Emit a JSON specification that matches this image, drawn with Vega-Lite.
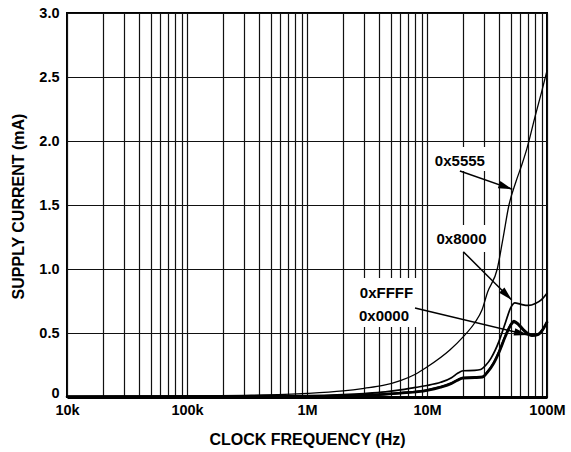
{
  "$schema": "https://vega.github.io/schema/vega-lite/v6.json",
  "width": 480,
  "height": 384,
  "autosize": {"type": "none"},
  "padding": {"left": 67, "top": 13, "right": 24, "bottom": 55},
  "background": "white",
  "config": {
    "view": {"stroke": "black", "strokeWidth": 2},
    "font": "Liberation Sans",
    "axis": {
      "labelFont": "Liberation Sans",
      "labelFontWeight": "bold",
      "labelFontSize": 14.5,
      "labelColor": "black",
      "titleFont": "Liberation Sans",
      "titleFontWeight": "bold",
      "titleFontSize": 16,
      "titleColor": "black",
      "gridColor": "#111",
      "gridWidth": 1.2,
      "gridOpacity": 1,
      "ticks": false
    }
  },
  "datasets": {
    "curves": [
      {"series": "0x5555", "freq": 10000, "current": 0.005},
      {"series": "0x5555", "freq": 30000, "current": 0.006},
      {"series": "0x5555", "freq": 100000, "current": 0.008},
      {"series": "0x5555", "freq": 300000, "current": 0.013},
      {"series": "0x5555", "freq": 1000000, "current": 0.028},
      {"series": "0x5555", "freq": 2000000, "current": 0.048},
      {"series": "0x5555", "freq": 3000000, "current": 0.068},
      {"series": "0x5555", "freq": 4300000, "current": 0.09},
      {"series": "0x5555", "freq": 6000000, "current": 0.128},
      {"series": "0x5555", "freq": 8000000, "current": 0.178},
      {"series": "0x5555", "freq": 10000000, "current": 0.234},
      {"series": "0x5555", "freq": 15500000, "current": 0.367},
      {"series": "0x5555", "freq": 20000000, "current": 0.47},
      {"series": "0x5555", "freq": 25000000, "current": 0.58},
      {"series": "0x5555", "freq": 28700000, "current": 0.68},
      {"series": "0x5555", "freq": 32000000, "current": 0.82},
      {"series": "0x5555", "freq": 38500000, "current": 1.0},
      {"series": "0x5555", "freq": 43000000, "current": 1.24},
      {"series": "0x5555", "freq": 48200000, "current": 1.5},
      {"series": "0x5555", "freq": 55000000, "current": 1.68},
      {"series": "0x5555", "freq": 62000000, "current": 1.82},
      {"series": "0x5555", "freq": 68000000, "current": 1.94},
      {"series": "0x5555", "freq": 80000000, "current": 2.2},
      {"series": "0x5555", "freq": 90000000, "current": 2.38},
      {"series": "0x5555", "freq": 100000000, "current": 2.55},

      {"series": "0x8000", "freq": 10000, "current": 0.004},
      {"series": "0x8000", "freq": 100000, "current": 0.005},
      {"series": "0x8000", "freq": 1000000, "current": 0.01},
      {"series": "0x8000", "freq": 2000000, "current": 0.018},
      {"series": "0x8000", "freq": 3000000, "current": 0.027},
      {"series": "0x8000", "freq": 4500000, "current": 0.04},
      {"series": "0x8000", "freq": 6000000, "current": 0.055},
      {"series": "0x8000", "freq": 8000000, "current": 0.075},
      {"series": "0x8000", "freq": 10000000, "current": 0.09},
      {"series": "0x8000", "freq": 13000000, "current": 0.115},
      {"series": "0x8000", "freq": 16000000, "current": 0.15},
      {"series": "0x8000", "freq": 18000000, "current": 0.185},
      {"series": "0x8000", "freq": 20000000, "current": 0.205},
      {"series": "0x8000", "freq": 25000000, "current": 0.208},
      {"series": "0x8000", "freq": 28000000, "current": 0.215},
      {"series": "0x8000", "freq": 31000000, "current": 0.25},
      {"series": "0x8000", "freq": 34000000, "current": 0.3},
      {"series": "0x8000", "freq": 40000000, "current": 0.44},
      {"series": "0x8000", "freq": 45000000, "current": 0.58},
      {"series": "0x8000", "freq": 50000000, "current": 0.7},
      {"series": "0x8000", "freq": 54000000, "current": 0.735},
      {"series": "0x8000", "freq": 60000000, "current": 0.725},
      {"series": "0x8000", "freq": 70000000, "current": 0.715},
      {"series": "0x8000", "freq": 80000000, "current": 0.73},
      {"series": "0x8000", "freq": 90000000, "current": 0.76},
      {"series": "0x8000", "freq": 100000000, "current": 0.81},

      {"series": "0xFFFF", "freq": 10000, "current": 0.002},
      {"series": "0xFFFF", "freq": 100000, "current": 0.003},
      {"series": "0xFFFF", "freq": 1000000, "current": 0.006},
      {"series": "0xFFFF", "freq": 3000000, "current": 0.015},
      {"series": "0xFFFF", "freq": 6000000, "current": 0.032},
      {"series": "0xFFFF", "freq": 10000000, "current": 0.055},
      {"series": "0xFFFF", "freq": 13000000, "current": 0.08},
      {"series": "0xFFFF", "freq": 16000000, "current": 0.11},
      {"series": "0xFFFF", "freq": 18000000, "current": 0.135},
      {"series": "0xFFFF", "freq": 20000000, "current": 0.152},
      {"series": "0xFFFF", "freq": 25000000, "current": 0.155},
      {"series": "0xFFFF", "freq": 29000000, "current": 0.16},
      {"series": "0xFFFF", "freq": 32000000, "current": 0.2},
      {"series": "0xFFFF", "freq": 36000000, "current": 0.27},
      {"series": "0xFFFF", "freq": 40000000, "current": 0.36},
      {"series": "0xFFFF", "freq": 45000000, "current": 0.48},
      {"series": "0xFFFF", "freq": 50000000, "current": 0.57},
      {"series": "0xFFFF", "freq": 53000000, "current": 0.595},
      {"series": "0xFFFF", "freq": 58000000, "current": 0.57},
      {"series": "0xFFFF", "freq": 65000000, "current": 0.52},
      {"series": "0xFFFF", "freq": 75000000, "current": 0.485},
      {"series": "0xFFFF", "freq": 85000000, "current": 0.495},
      {"series": "0xFFFF", "freq": 92000000, "current": 0.53},
      {"series": "0xFFFF", "freq": 100000000, "current": 0.59},

      {"series": "0x0000", "freq": 10000, "current": 0.002},
      {"series": "0x0000", "freq": 100000, "current": 0.003},
      {"series": "0x0000", "freq": 1000000, "current": 0.005},
      {"series": "0x0000", "freq": 3000000, "current": 0.013},
      {"series": "0x0000", "freq": 6000000, "current": 0.029},
      {"series": "0x0000", "freq": 10000000, "current": 0.051},
      {"series": "0x0000", "freq": 13000000, "current": 0.076},
      {"series": "0x0000", "freq": 16000000, "current": 0.105},
      {"series": "0x0000", "freq": 18000000, "current": 0.13},
      {"series": "0x0000", "freq": 20000000, "current": 0.147},
      {"series": "0x0000", "freq": 25000000, "current": 0.15},
      {"series": "0x0000", "freq": 29000000, "current": 0.155},
      {"series": "0x0000", "freq": 32000000, "current": 0.194},
      {"series": "0x0000", "freq": 36000000, "current": 0.263},
      {"series": "0x0000", "freq": 40000000, "current": 0.352},
      {"series": "0x0000", "freq": 45000000, "current": 0.472},
      {"series": "0x0000", "freq": 50000000, "current": 0.562},
      {"series": "0x0000", "freq": 53000000, "current": 0.587},
      {"series": "0x0000", "freq": 58000000, "current": 0.563},
      {"series": "0x0000", "freq": 65000000, "current": 0.513},
      {"series": "0x0000", "freq": 75000000, "current": 0.478},
      {"series": "0x0000", "freq": 85000000, "current": 0.488},
      {"series": "0x0000", "freq": 92000000, "current": 0.523},
      {"series": "0x0000", "freq": 100000000, "current": 0.582}
    ],
    "boxes": [
      {"label": "0x5555", "freq": 10800000, "freq2": 32900000, "current": 1.953, "current2": 1.766},
      {"label": "0x8000", "freq": 10600000, "freq2": 34800000, "current": 1.344, "current2": 1.133},
      {"label": "0xFFFF", "freq": 2280000, "freq2": 8410000, "current": 0.93, "current2": 0.547}
    ],
    "labels": [
      {"label": "0x5555", "freq": 18800000, "current": 1.844},
      {"label": "0x8000", "freq": 19400000, "current": 1.234},
      {"label": "0xFFFF", "freq": 4600000, "current": 0.816},
      {"label": "0x0000", "freq": 4380000, "current": 0.633}
    ],
    "arrows": [
      {"label": "0x5555", "freq": 18800000, "current": 1.766, "freq2": 51400000, "current2": 1.623},
      {"label": "0x8000", "freq": 20070000, "current": 1.135, "freq2": 50800000, "current2": 0.758},
      {"label": "0x0000", "freq": 7940000, "current": 0.695, "freq2": 69500000, "current2": 0.484}
    ],
    "heads": [
      {"label": "0x5555", "freq": 51400000, "current": 1.623},
      {"label": "0x8000", "freq": 50800000, "current": 0.758},
      {"label": "0x0000", "freq": 69500000, "current": 0.484}
    ]
  },
  "encoding": {
    "x": {
      "field": "freq", "type": "quantitative",
      "scale": {"type": "log", "domain": [10000, 100000000]},
      "axis": {
        "title": "CLOCK FREQUENCY (Hz)",
        "values": [10000,20000,30000,40000,50000,60000,70000,80000,90000,100000,200000,300000,400000,500000,600000,700000,800000,900000,1000000,2000000,3000000,4000000,5000000,6000000,7000000,8000000,9000000,10000000,20000000,30000000,40000000,50000000,60000000,70000000,80000000,90000000,100000000],
        "labelExpr": "datum.value == 10000 ? '10k' : datum.value == 100000 ? '100k' : datum.value == 1000000 ? '1M' : datum.value == 10000000 ? '10M' : datum.value == 100000000 ? '100M' : ''",
        "labelFlush": false,
        "labelOverlap": false,
        "labelPadding": 6,
        "grid": true,
        "domain": true,
        "domainColor": "black",
        "domainWidth": 3,
        "titleX": 240,
        "titleY": 42,
        "titleBaseline": "middle"
      }
    },
    "y": {
      "field": "current", "type": "quantitative",
      "scale": {"domain": [0, 3]},
      "axis": {
        "title": "SUPPLY CURRENT (mA)",
        "values": [0, 0.5, 1, 1.5, 2, 2.5, 3],
        "labelExpr": "datum.value == 0 ? '0' : format(datum.value, '.1f')",
        "labelBaseline": {"condition": {"test": "datum.value == 0", "value": "alphabetic"}, "value": "middle"},
        "labelPadding": 8,
        "grid": true,
        "domain": false,
        "titleX": -49,
        "titleY": 193,
        "titleBaseline": "middle",
        "titleAngle": -90
      }
    }
  },
  "layer": [
    {
      "data": {"name": "curves"},
      "mark": {"type": "line", "interpolate": "monotone", "color": "black", "strokeCap": "round", "strokeJoin": "round"},
      "encoding": {
        "strokeWidth": {
          "field": "series", "type": "ordinal",
          "scale": {"domain": ["0x5555", "0x8000", "0xFFFF", "0x0000"], "range": [1.3, 2.6, 2.8, 2.8]},
          "legend": null
        }
      }
    },
    {
      "data": {"name": "boxes"},
      "mark": {"type": "rect", "fill": "white", "stroke": null},
      "encoding": {
        "x2": {"field": "freq2"},
        "y2": {"field": "current2"}
      }
    },
    {
      "data": {"name": "labels"},
      "mark": {"type": "text", "font": "Liberation Sans", "fontWeight": "bold", "fontSize": 15, "color": "black", "align": "center", "baseline": "middle"},
      "encoding": {
        "text": {"field": "label"}
      }
    },
    {
      "data": {"name": "arrows"},
      "mark": {"type": "rule", "color": "black", "strokeWidth": 1.5},
      "encoding": {
        "x2": {"field": "freq2"},
        "y2": {"field": "current2"}
      }
    },
    {
      "data": {"name": "heads"},
      "transform": [{"filter": "datum.label == '0x5555'"}],
      "mark": {"type": "point", "shape": "M0,0L-0.7,2.6L0.7,2.6Z", "filled": true, "fill": "black", "opacity": 1, "strokeWidth": 0, "size": 116, "angle": 109.3},
      "encoding": {}
    },
    {
      "data": {"name": "heads"},
      "transform": [{"filter": "datum.label == '0x8000'"}],
      "mark": {"type": "point", "shape": "M0,0L-0.7,2.6L0.7,2.6Z", "filled": true, "fill": "black", "opacity": 1, "strokeWidth": 0, "size": 116, "angle": 135},
      "encoding": {}
    },
    {
      "data": {"name": "heads"},
      "transform": [{"filter": "datum.label == '0x0000'"}],
      "mark": {"type": "point", "shape": "M0,0L-0.7,2.6L0.7,2.6Z", "filled": true, "fill": "black", "opacity": 1, "strokeWidth": 0, "size": 116, "angle": 103.4},
      "encoding": {}
    }
  ]
}
